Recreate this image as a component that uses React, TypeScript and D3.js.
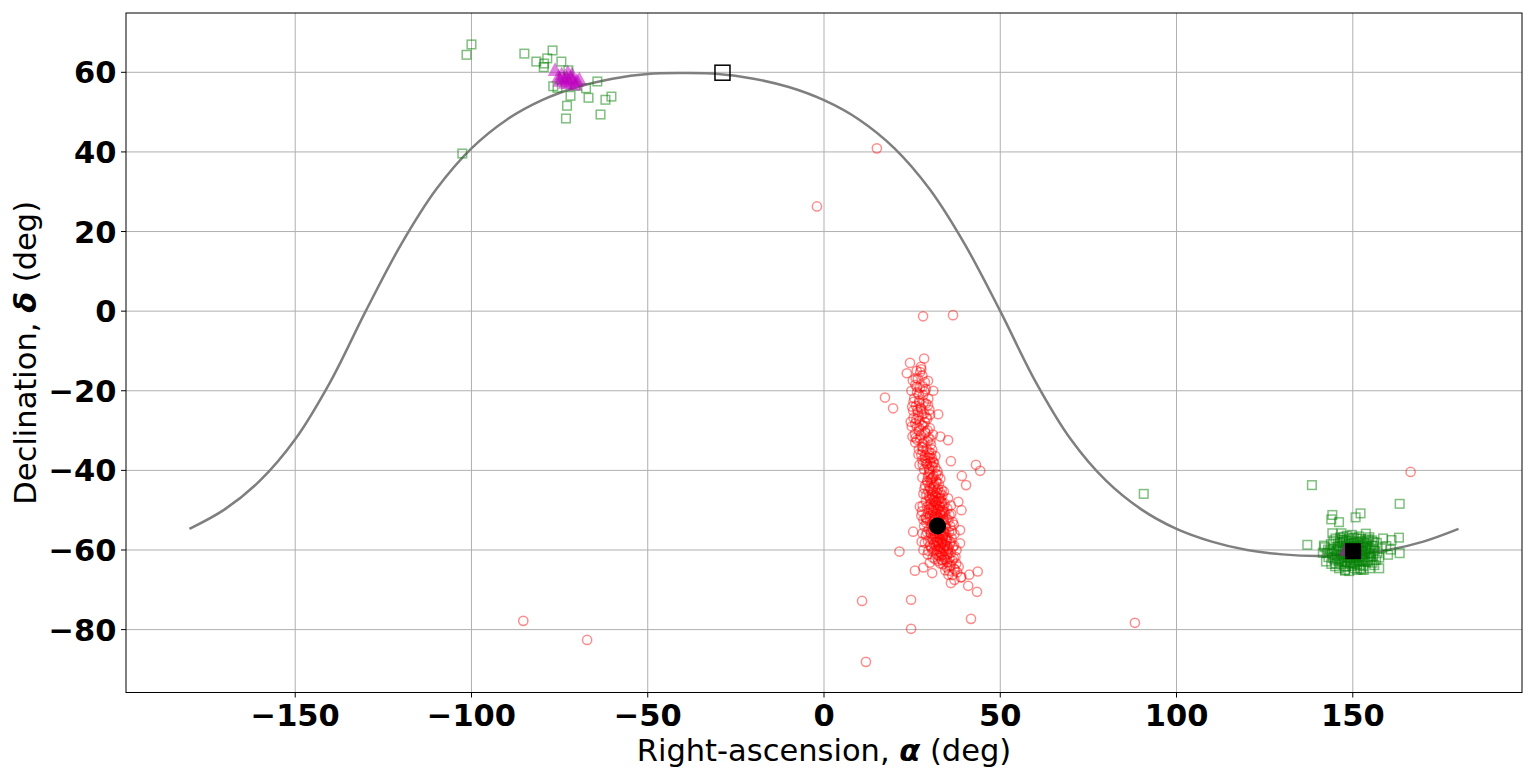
import React from "react";
import * as d3 from "d3";

// ---------- data ----------
const xTicks = [-150, -100, -50, 0, 50, 100, 150];
const yTicks = [-80, -60, -40, -20, 0, 20, 40, 60];

const curveRA = [-180,-170,-160,-150,-140,-130,-120,-110,-100,-90,-80,-70,-60,-50,-40,-30,-20,-10,0,10,20,30,40,50,60,70,80,90,100,110,120,130,140,150,160,170,180];
const curveDec = [-54.7,-49.8,-42.6,-32.2,-17.7,0.0,16.7,30.6,40.9,48.1,53.0,56.3,58.4,59.6,59.8,59.6,58.4,56.3,53.0,48.1,40.9,30.6,16.7,0.0,-17.7,-32.2,-42.6,-49.8,-54.7,-57.9,-60.0,-61.1,-61.5,-61.1,-60.0,-57.9,-54.7];

// red circles [ra, dec]
const redPoints: [number, number][] = [
  [15.0,40.9],[-2.0,26.3],[28.1,-1.3],[36.6,-1.0],[-85.3,-77.8],[-67.2,-82.6],[11.9,-88.1],[24.7,-79.8],
  [10.8,-72.8],[24.7,-72.5],[41.7,-77.3],[88.2,-78.3],[166.4,-40.4],[17.3,-21.7],[19.6,-24.4],
  [43.1,-38.6],[44.3,-40.1],[39.1,-41.4],[40.3,-43.7],[36.0,-37.7],[32.4,-25.9],[33.0,-31.5],[35.2,-32.4],[31.0,-20.0],
  [21.4,-60.4],[25.3,-55.4],[25.8,-65.2],[28.2,-64.4],[30.7,-65.8],[36.0,-68.3],[39.0,-66.8],[41.2,-66.2],[43.6,-65.4],
  [40.9,-69.0],[43.4,-70.5],[35.3,-66.2],[37.2,-65.0],[33.4,-62.5],[38.6,-58.3],[38.6,-55.0],[39.0,-50.0],[38.1,-47.9],
  [27.2,-49.1],[28.2,-52.4],[27.7,-57.9],[28.2,-60.0],
  // upper column
  [28.4,-11.9],[24.4,-13.0],[23.5,-15.6],[27.5,-14.0],[26.3,-15.0],[27.9,-16.2],[26.6,-17.0],[28.6,-17.8],[25.9,-18.5],
  [27.2,-19.3],[26.4,-20.4],[28.1,-21.1],[25.6,-21.9],[27.0,-22.5],[28.9,-23.2],[26.1,-23.8],[27.6,-24.6],[25.3,-25.0],
  [28.4,-25.7],[26.8,-26.3],[29.3,-27.0],[27.1,-27.5],[25.9,-28.2],[28.2,-28.8],[30.0,-29.4],[26.9,-30.1],[28.8,-30.6],
  [27.5,-31.2],[29.7,-31.8],[26.4,-32.3],[28.5,-32.9],[30.3,-33.5],[27.8,-34.0],[29.1,-34.6],[28.0,-35.1],[30.4,-35.7],
  [28.7,-36.2],[29.6,-36.8],[27.9,-37.4],[31.0,-37.9],[29.2,-38.3],[29.5,-17.5],[29.6,-22.0],[30.1,-26.0],[26.3,-29.0],
  [30.9,-31.0],[25.9,-33.0],[26.8,-36.0],[28.0,-38.5],[25.0,-24.0],[24.8,-20.0],[24.6,-27.8],[25.1,-31.5],
  [27.3,-15.3],[26.0,-16.8],[28.0,-18.9],[26.9,-20.9],[28.3,-22.9],[27.4,-24.2],[26.6,-25.4],[29.0,-26.7],[27.8,-28.6],
  [28.7,-30.3],[27.2,-31.9],[29.4,-32.7],[28.1,-34.3],[29.8,-35.4],[28.6,-36.9],[30.1,-38.0],[26.2,-27.2],[29.9,-24.8],
  [25.8,-30.8],[30.7,-34.8],
  [27.6,-14.6],[25.2,-17.4],[28.6,-20.2],[25.4,-22.8],[29.5,-23.6],[26.5,-24.8],[27.9,-26.0],[25.4,-26.8],[28.6,-27.9],
  [27.0,-29.3],[29.4,-30.0],[26.0,-31.8],[28.0,-33.2],[26.9,-34.7],[29.9,-36.2],[27.6,-36.0],[28.8,-37.7],[30.6,-36.9],
  [27.1,-38.6],[29.8,-39.8],[26.3,-19.0],[27.0,-23.0],[28.9,-19.6],[24.9,-29.0],[30.2,-32.3],
  // body
  [29.1,-38.4],[30.5,-38.9],[31.6,-39.3],[28.4,-39.8],[32.2,-40.2],[30.0,-40.6],[29.7,-41.0],[31.1,-41.4],[27.9,-41.8],[33.0,-42.1],
  [30.2,-42.3],[31.8,-42.7],[29.3,-43.0],[32.6,-43.4],[28.7,-43.8],[31.0,-44.1],[30.1,-44.5],[33.4,-44.9],[29.6,-45.2],[32.0,-45.6],[28.2,-45.9],[30.7,-46.0],
  [31.5,-46.3],[29.8,-46.6],[33.1,-46.9],[30.4,-47.2],[32.4,-47.5],[28.9,-47.8],[31.9,-48.0],[34.2,-48.3],[30.0,-48.6],[32.8,-48.9],[29.2,-49.2],[31.2,-49.4],[35.0,-49.6],[30.6,-49.9],[33.6,-50.0],
  [31.0,-50.2],[32.9,-50.5],[29.5,-50.8],[34.4,-51.0],[30.7,-51.3],[32.2,-51.6],[28.8,-51.8],[33.7,-52.0],[31.5,-52.3],[35.3,-52.5],[30.1,-52.8],[32.6,-53.0],[29.0,-53.2],[34.0,-53.5],[31.3,-53.7],[33.1,-53.9],[30.4,-54.1],[36.1,-50.9],[36.5,-52.9],[27.6,-51.4],
  [32.3,-54.3],[34.6,-54.5],[29.7,-54.8],[33.2,-55.0],[31.0,-55.2],[35.5,-55.5],[30.2,-55.7],[32.8,-55.9],[34.0,-56.1],[28.9,-56.3],[33.6,-56.6],[31.6,-56.8],[36.2,-57.0],[30.5,-57.2],[32.9,-57.4],[34.8,-57.6],[29.5,-57.8],[31.9,-58.0],[37.0,-56.0],[27.9,-55.8],
  [33.3,-58.2],[35.7,-58.4],[31.2,-58.6],[34.4,-58.8],[32.5,-59.0],[36.6,-59.2],[30.4,-59.4],[33.9,-59.6],[35.1,-59.8],[32.0,-60.0],[34.7,-60.3],[31.0,-60.5],[36.0,-60.7],[33.2,-60.9],[29.4,-61.1],[34.9,-61.3],[32.7,-61.5],[37.3,-61.7],[30.8,-61.9],[35.6,-62.1],
  [34.2,-62.3],[36.4,-62.6],[32.4,-62.8],[35.0,-63.1],[37.5,-63.4],[33.8,-63.6],[36.0,-63.9],[38.2,-64.2],[34.9,-64.4],[36.9,-64.7],[35.5,-65.2],[37.8,-65.6],[36.4,-66.3],[38.8,-66.9],[37.0,-67.5],
  // core
  [30.8,-46.8],[32.7,-47.1],[31.4,-47.7],[33.5,-48.1],[30.3,-48.4],[32.1,-48.7],[31.0,-49.0],[33.9,-49.3],[32.4,-49.7],[30.9,-50.1],[34.1,-50.4],[31.8,-50.7],[33.0,-51.1],[30.0,-51.5],[32.7,-51.9],[34.8,-52.2],[31.1,-52.6],[33.4,-52.9],[32.0,-53.3],[30.7,-53.6],[34.5,-53.9],[31.9,-54.2],[33.0,-54.6],[30.9,-54.9],[32.5,-55.3],[34.2,-55.6],[31.4,-55.9],[33.7,-56.3],[32.1,-56.7],[35.0,-56.9],[30.9,-57.5],[33.5,-57.8],[32.4,-58.3],[34.3,-58.6],[31.7,-59.0],[33.1,-59.3],[35.4,-59.5],[32.4,-59.8],[34.0,-60.1],[33.0,-60.6],[31.8,-61.0],[34.1,-61.8],[33.5,-62.5],[32.9,-49.2],[31.6,-51.0],[33.3,-54.4],[32.8,-57.0],[31.2,-53.0],[33.8,-50.9],[30.4,-56.0],[32.3,-52.5],[31.7,-48.0],[34.6,-57.3],[30.1,-58.9],[35.8,-54.0],[29.3,-52.4],[33.6,-46.3],[29.8,-49.8],
  [31.2,-38.1],[29.9,-39.5],[31.8,-40.9],[30.6,-42.0],[29.5,-41.5],[32.4,-41.2],[31.3,-43.6],[29.9,-44.0],[32.3,-44.7],[31.0,-45.5],[30.2,-37.0],[31.6,-36.4],[30.8,-39.0],
  [28.5,-44.6],[34.0,-45.3],[35.2,-47.0],[28.0,-48.9],[36.0,-48.8],[27.8,-50.3],[35.6,-51.2],[29.0,-52.0],[36.8,-53.6],[28.4,-54.0],[36.3,-55.2],[29.2,-55.5],[35.8,-57.9],[28.6,-58.2],[36.9,-58.9],[29.6,-60.2],[37.6,-60.0],[31.5,-62.3],[36.8,-62.0],[30.0,-63.2],
  [30.5,-43.2],[31.9,-46.7],[32.6,-46.0],[33.2,-47.8],[31.1,-47.4],[30.2,-49.5],[32.0,-49.9],[33.3,-50.4],[31.3,-51.8],[33.9,-52.5],[32.8,-53.5],[31.5,-54.6],[34.0,-55.2],[32.0,-55.9],[33.4,-56.0],[31.0,-56.4],[34.4,-57.0],[32.2,-57.7],[33.7,-58.4],[31.4,-58.1],[34.9,-59.0],[32.9,-59.7],[31.3,-60.1],[33.6,-61.2],[35.3,-61.0],[32.2,-61.3],[34.6,-62.6],[33.0,-63.4],[35.6,-64.0],[34.4,-65.1],
  [30.9,-41.8],[29.3,-42.6],[32.0,-43.0],[30.4,-45.0],[33.0,-45.6],[29.0,-46.2],[31.6,-44.4],[30.0,-47.0],
];

// green squares [ra, dec]
const greenPoints: [number, number][] = [
  // north cluster
  [-100.0,67.0],[-101.4,64.4],[-85.0,64.7],[-81.6,62.7],[-78.5,63.5],[-77.0,65.5],[-79.4,62.2],[-79.5,61.3],[-74.5,62.7],
  [-76.8,56.5],[-75.6,56.1],[-72.9,51.6],[-73.2,48.4],[-71.9,54.1],[-66.8,53.6],[-67.5,56.0],[-64.3,57.7],[-62.0,53.1],
  [-60.3,53.9],[-63.4,49.4],[-72.5,60.5],[-102.6,39.6],[-70.5,56.6],[-74.0,58.8],
  // isolated
  [90.7,-45.9],[138.4,-43.7],[163.3,-48.4],
  // south spread
  [144.2,-51.2],[143.9,-52.3],[146.1,-53.0],[150.8,-51.8],[152.2,-50.8],[137.1,-58.7],[144.2,-55.8],[163.1,-56.9],
  [161.0,-57.5],[163.3,-60.8],[160.0,-61.2],[157.5,-64.6],[147.8,-65.0],[142.6,-60.8],[142.4,-62.9],[158.6,-57.1],
  [154.8,-64.6],[152.0,-64.6],[159.5,-59.0],[160.8,-59.9],[141.8,-58.9],
  [142.0,-59.3],[143.1,-61.8],[144.5,-57.6],[145.2,-63.4],[146.4,-56.9],[147.7,-64.2],[148.9,-57.1],[150.5,-64.6],
  [151.8,-56.6],[153.0,-64.0],[154.4,-57.3],[155.6,-63.2],[156.8,-58.2],[157.5,-61.9],[158.2,-59.6],[141.5,-60.7],
  [143.8,-58.5],[145.9,-62.8],[147.2,-58.0],[149.3,-63.5],[152.6,-57.8],[154.9,-62.6],[156.2,-60.1],[144.1,-61.0],
  [155.3,-58.9],[146.8,-55.8],[153.7,-55.9],[149.8,-56.2],[151.2,-65.0],[145.0,-64.1],
  // south core
  [146.0,-59.1],[147.1,-60.4],[148.2,-59.0],[149.0,-61.2],[150.3,-59.3],[151.4,-60.9],[152.5,-59.5],[153.4,-61.0],
  [154.2,-60.0],[147.5,-61.8],[148.8,-58.4],[150.1,-62.0],[151.9,-58.6],[153.0,-62.2],[146.6,-61.0],[145.3,-60.2],
  [155.0,-60.8],[149.6,-60.3],[152.1,-61.5],[147.9,-62.6],[150.9,-57.9],[148.5,-60.7],[151.0,-59.9],[153.8,-59.2],
  [146.2,-62.2],[154.6,-61.7],[149.2,-59.6],[152.8,-60.4],[145.7,-58.4],[150.6,-61.4],[148.0,-57.7],[151.6,-62.8],
  [147.0,-63.0],[153.2,-58.2],[149.9,-58.9],[155.8,-61.5],[144.7,-59.6],[151.3,-63.6],[148.4,-63.2],[146.9,-57.4],
  [152.3,-57.2],[150.0,-60.8],[147.6,-59.4],[153.6,-63.0],[154.0,-58.5],[145.5,-61.5],[149.4,-62.5],[151.7,-61.9],
  [150.4,-58.1],[152.9,-59.0],[148.6,-61.6],[146.4,-60.0],[154.8,-59.5],[147.3,-56.7],[149.7,-64.0],[143.5,-60.3],
  [156.6,-62.5],[144.9,-62.4],[155.5,-57.6],[150.8,-63.1],[147.8,-65.2],[152.4,-64.9],
  [146.5,-58.2],[147.8,-60.9],[148.9,-62.1],[149.5,-57.6],[150.7,-60.1],[151.5,-58.2],[152.6,-62.6],[153.5,-60.3],
  [154.3,-62.9],[145.8,-59.9],[144.6,-60.9],[146.7,-63.6],[148.1,-64.1],[150.2,-63.3],[152.0,-63.8],[153.9,-57.6],
  [155.2,-61.9],[156.0,-59.0],[147.3,-61.3],[149.1,-59.9],[150.9,-61.9],[152.2,-60.1],[151.1,-57.1],[148.3,-56.4],
  [146.1,-64.6],[143.0,-59.9],[157.0,-60.8],[145.1,-57.1],[154.7,-56.8],[149.0,-65.3],[153.1,-65.0],[156.1,-63.8],
  [143.9,-63.5],[151.8,-59.2],[148.7,-59.4],[147.4,-57.5],[150.3,-56.9],[155.9,-58.0],[144.3,-62.0],[152.9,-61.2],
];

// magenta triangles [ra, dec]
const magentaPoints: [number, number][] = [
  [-76.3,60.7],[-74.4,59.6],[-73.7,58.4],[-74.9,58.0],[-73.0,58.8],[-71.5,59.6],[-71.1,58.1],[-70.1,58.0],
  [-69.4,58.4],[-72.2,57.5],[-75.3,59.0],[-70.6,57.1],[-73.4,57.5],[-71.8,58.8],[-72.7,60.1],[148.0,-59.8],
];

const blackCircle: [number, number] = [32.2, -54.0];
const blackSquare: [number, number] = [150.1, -60.3];
const openSquare: [number, number] = [-28.8, 59.9];

// ---------- layout ----------
const W = 1535, H = 780;
const L = 126, R = 1522, T = 13, B = 692.5;
const FONT = "DejaVu Sans";
const FS = 30.5;

export default function App() {
  const x = d3.scaleLinear().domain([-198, 198]).range([L, R]);
  const y = d3.scaleLinear().domain([-95.8, 74.9]).range([B, T]);
  const line = d3.line<number>()
    .x((_, i) => x(curveRA[i]))
    .y((d) => y(d))
    .curve(d3.curveCatmullRom);
  const fmt = (v: number) => (v < 0 ? "\u2212" + Math.abs(v) : String(v));
  const tri = (cx: number, cy: number) => {
    const s = 7.3;
    return `M${cx},${cy - s}L${cx + s},${cy + s * 0.9}L${cx - s},${cy + s * 0.9}Z`;
  };
  return (
    <svg width={W} height={H} style={{ position: "absolute", left: 0, top: 0, background: "#fff" }}
      fontFamily={FONT}>
      <rect x={0} y={0} width={W} height={H} fill="#fff" />
      <defs>
        <clipPath id="plot"><rect x={L} y={T} width={R - L} height={B - T} /></clipPath>
      </defs>
      {/* grid */}
      <g stroke="#b0b0b0" strokeWidth={1}>
        {xTicks.map((t) => <line key={"gx" + t} x1={x(t)} x2={x(t)} y1={T} y2={B} />)}
        {yTicks.map((t) => <line key={"gy" + t} y1={y(t)} y2={y(t)} x1={L} x2={R} />)}
      </g>
      <g clipPath="url(#plot)">
        <path d={line(curveDec) || ""} fill="none" stroke="#7f7f7f" strokeWidth={2.5} />
        <g fill="none" stroke="rgba(255,0,0,0.45)" strokeWidth={1.5}>
          {redPoints.map((p, i) => <circle key={"r" + i} cx={x(p[0])} cy={y(p[1])} r={4.6} />)}
        </g>
        <g fill="none" stroke="rgba(0,128,0,0.5)" strokeWidth={1.5}>
          {greenPoints.map((p, i) => <rect key={"g" + i} x={x(p[0]) - 4.3} y={y(p[1]) - 4.3} width={8.6} height={8.6} />)}
        </g>
        <g fill="rgba(191,0,191,0.5)" stroke="none">
          {magentaPoints.map((p, i) => <path key={"m" + i} d={tri(x(p[0]), y(p[1]))} />)}
        </g>
        <circle cx={x(blackCircle[0])} cy={y(blackCircle[1])} r={8.5} fill="#000" />
        <rect x={x(blackSquare[0]) - 8} y={y(blackSquare[1]) - 8} width={16} height={16} fill="#000" />
        <rect x={x(openSquare[0]) - 7.5} y={y(openSquare[1]) - 7.5} width={15} height={15} fill="none" stroke="#000" strokeWidth={1.5} />
      </g>
      {/* frame */}
      <rect x={L} y={T} width={R - L} height={B - T} fill="none" stroke="#000" strokeWidth={1} />
      {/* ticks */}
      <g stroke="#000" strokeWidth={1}>
        {xTicks.map((t) => <line key={"tx" + t} x1={x(t)} x2={x(t)} y1={B} y2={B + 5} />)}
        {yTicks.map((t) => <line key={"ty" + t} x1={L - 5} x2={L} y1={y(t)} y2={y(t)} />)}
      </g>
      <g fontWeight="bold" fontSize={FS} fill="#000">
        {xTicks.map((t) => (
          <text key={"lx" + t} x={x(t)} y={725.5} textAnchor="middle">{fmt(t)}</text>
        ))}
        {yTicks.map((t) => (
          <text key={"ly" + t} x={L - 9.5} y={y(t) + 11} textAnchor="end">{fmt(t)}</text>
        ))}
      </g>
      <text x={(L + R) / 2} y={761} textAnchor="middle" fontSize={FS}>
        Right-ascension, <tspan fontWeight="bold" fontStyle="italic">α</tspan> (deg)
      </text>
      <text transform={`translate(36,${(T + B) / 2}) rotate(-90)`} textAnchor="middle" fontSize={FS}>
        Declination, <tspan fontWeight="bold" fontStyle="italic">δ</tspan> (deg)
      </text>
    </svg>
  );
}
